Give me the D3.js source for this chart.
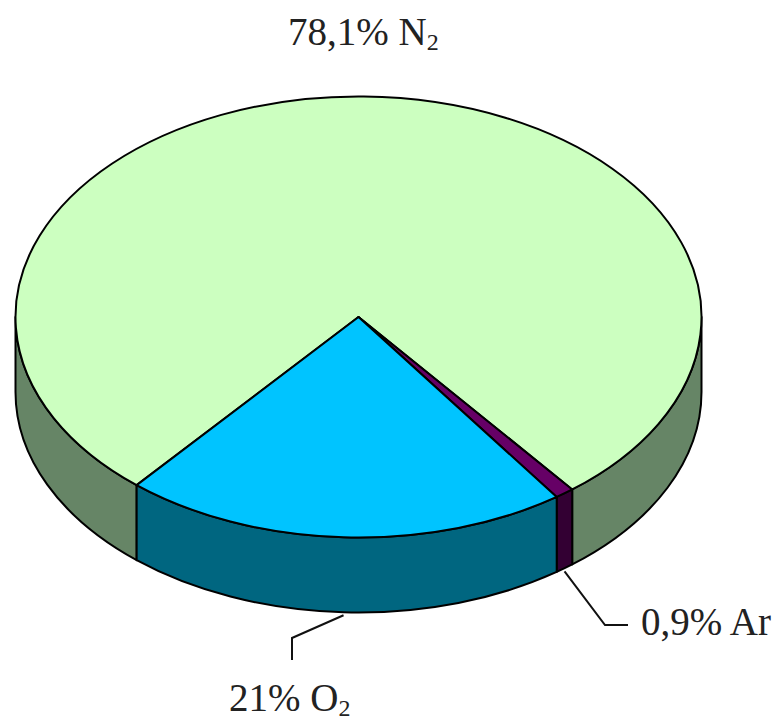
<!DOCTYPE html>
<html>
<head>
<meta charset="utf-8">
<script src="https://cdn.jsdelivr.net/npm/d3@7"></script>
<style>
  html, body { margin: 0; padding: 0; background: #fff; }
  svg { display: block; }
  text { font-family: "Liberation Serif", serif; font-size: 39px; fill: #222; }
</style>
</head>
<body>
<div id="chart"></div>
<script>
var gases = ["N", "Ar", "O"];
var shares = [78.1, 0.9, 21];
var percentLabels = ["78,1%", "0,9%", "21%"];
var symbols = ["N", "Ar", "O"];
var subscripts = ["2", "", "2"];
var topColors = ["#ccffc0", "#660066", "#00c4ff"];
var sideColors = ["#668566", "#330033", "#006680"];

var width = 782, height = 721;
var cx = 358.5, cy = 317, rx = 343, ry = 220.5, depth = 75;

var svg = d3.select("#chart").append("svg")
    .attr("width", width)
    .attr("height", height);

// tilted pie: angle is clockwise from 12 o'clock, like d3.arc
var px = d3.scaleLinear().domain([-1, 1]).range([cx - rx, cx + rx]);
var py = d3.scaleLinear().domain([-1, 1]).range([cy + ry, cy - ry]);

function point(a, drop) {
    return [px(Math.sin(a)), py(Math.cos(a)) + (drop || 0)];
}

// more than half of the ellipse needs the large arc flag
function rim(a0, a1, sweep) {
    var large = Math.abs(a1 - a0) > Math.PI ? 1 : 0;
    return "A" + rx + "," + ry + " 0 " + large + " " + sweep + " ";
}

function topPath(d) {
    var s = point(d.startAngle), e = point(d.endAngle);
    return "M" + cx + "," + cy + "L" + s + rim(d.startAngle, d.endAngle, 1) + e + "Z";
}

function sidePath(a0, a1) {
    var s = point(a0), e = point(a1), e2 = point(a1, depth), s2 = point(a0, depth);
    return "M" + s + rim(a0, a1, 1) + e + "L" + e2 + rim(a1, a0, 0) + s2 + "Z";
}

var pie = d3.pie()
    .sort(null)
    .startAngle(220.3 * Math.PI / 180)
    .endAngle(580.3 * Math.PI / 180);

var slices = pie(shares).map((d, i) => Object.assign(d, { i: i }));

// only the front half of the wall shows (90 to 270 degrees, also one turn on)
var sides = [];
slices.forEach(d => {
    [[Math.PI / 2, 1.5 * Math.PI], [2.5 * Math.PI, 3.5 * Math.PI]].forEach(r => {
        var a0 = Math.max(d.startAngle, r[0]), a1 = Math.min(d.endAngle, r[1]);
        if (a1 > a0) sides.push({ i: d.i, a0: a0, a1: a1 });
    });
});

svg.append("g")
    .selectAll("path")
    .data(sides)
    .enter()
    .append("path")
    .attr("d", d => sidePath(d.a0, d.a1))
    .attr("fill", d => sideColors[d.i])
    .attr("stroke", "#000")
    .attr("stroke-width", 2)
    .attr("stroke-linejoin", "round");

svg.append("g")
    .selectAll("path")
    .data(slices)
    .enter()
    .append("path")
    .attr("d", topPath)
    .attr("fill", d => topColors[d.i])
    .attr("stroke", "#000")
    .attr("stroke-width", 2)
    .attr("stroke-linejoin", "round");

// leader lines start just under the wall, at the middle of the slice
var leaderBends = [null, [[605, 625], [628, 625]], [[292, 638], [292, 660]]];
var line = d3.line();

svg.append("g")
    .selectAll("path")
    .data(slices.filter(d => leaderBends[d.i]))
    .enter()
    .append("path")
    .attr("d", d => {
        var mid = (d.startAngle + d.endAngle) / 2;
        return line([point(mid, depth + 3)].concat(leaderBends[d.i]));
    })
    .attr("fill", "none")
    .attr("stroke", "#111")
    .attr("stroke-width", 2);

var labelAt = [[288, 45], [641, 635], [229, 711]];

var label = svg.append("g")
    .selectAll("text")
    .data(gases)
    .enter()
    .append("text")
    .attr("x", (d, i) => labelAt[i][0])
    .attr("y", (d, i) => labelAt[i][1]);

label.append("tspan")
    .text((d, i) => percentLabels[i] + " " + symbols[i]);

label.append("tspan")
    .attr("dy", 5)
    .style("font-size", "24px")
    .text((d, i) => subscripts[i]);
</script>
</body>
</html>
